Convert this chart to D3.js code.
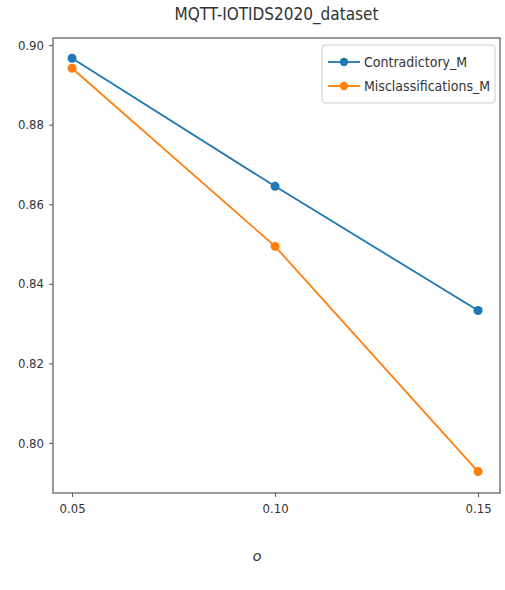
<!DOCTYPE html>
<html lang="en">
<head>
    <meta charset="utf-8">
    <title>MQTT-IOTIDS2020_dataset</title>
    <script src="https://d3js.org/d3.v7.min.js"></script>
    <style>
        body { margin: 0; background: #fff; }
        svg text { font-family: "DejaVu Sans Condensed", "DejaVu Sans", sans-serif; font-stretch: condensed; fill: #333; }
    </style>
</head>
<body>
<script>
    // data
    var xValues = [0.05, 0.10, 0.15];
    var contradictory = [0.8967, 0.8645, 0.8333];
    var misclass = [0.8942, 0.8494, 0.7928];
    var seriesNames = ["Contradictory_M", "Misclassifications_M"];
    var xTicks = [0.05, 0.10, 0.15];
    var yTicks = [0.80, 0.82, 0.84, 0.86, 0.88, 0.90];

    var w = 505, h = 590;
    var pl = 53, pr = 500, pt = 38, pb = 493;
    var colors = ["#1f77b4", "#ff7f0e"];

    var svg = d3.select("body").append("svg").attr("width", w).attr("height", h);

    var x = d3.scaleLinear().domain([0.0453, 0.1554]).range([pl, pr]);
    var y = d3.scaleLinear().domain([0.7874, 0.9018]).range([pb, pt]);

    // frame
    svg.append("rect").attr("x", pl).attr("y", pt)
        .attr("width", pr - pl).attr("height", pb - pt)
        .attr("fill", "none").attr("stroke", "#555").attr("stroke-width", 1.2);

    var xAxis = svg.append("g").attr("transform", "translate(0," + pb + ")")
        .call(d3.axisBottom(x).tickValues(xTicks).tickFormat(d3.format(".2f")).tickSize(4).tickPadding(7));
    var yAxis = svg.append("g").attr("transform", "translate(" + pl + ",0)")
        .call(d3.axisLeft(y).tickValues(yTicks).tickFormat(d3.format(".2f")).tickSize(4).tickPadding(5));
    [xAxis, yAxis].forEach(function (a) {
        a.select(".domain").remove();
        a.selectAll("line").attr("stroke", "#555");
        a.selectAll("text").style("font-size", "13px").attr("fill", "#333");
    });

    var series = [contradictory, misclass];
    var line = d3.line().x(function (d, i) { return x(xValues[i]); }).y(function (d) { return y(d); });

    series.forEach(function (s, k) {
        svg.append("path").datum(s).attr("d", line)
            .attr("fill", "none").attr("stroke", colors[k]).attr("stroke-width", 1.8);
        svg.selectAll(".pt" + k).data(s).enter().append("circle")
            .attr("cx", function (d, i) { return x(xValues[i]); })
            .attr("cy", function (d) { return y(d); })
            .attr("r", 4.5).attr("fill", colors[k]);
    });

    // title
    svg.append("text").attr("x", (pl + pr) / 2).attr("y", 20)
        .attr("text-anchor", "middle").style("font-size", "17px").attr("fill", "#222")
        .text("MQTT-IOTIDS2020_dataset");

    // legend
    var lg = svg.append("g").attr("transform", "translate(322,45)");
    lg.append("rect").attr("width", 173).attr("height", 58).attr("rx", 3)
        .attr("fill", "#fff").attr("stroke", "#ccc");
    seriesNames.forEach(function (n, k) {
        var yy = 17 + k * 24;
        lg.append("line").attr("x1", 6).attr("x2", 38).attr("y1", yy).attr("y2", yy)
            .attr("stroke", colors[k]).attr("stroke-width", 1.8);
        lg.append("circle").attr("cx", 22).attr("cy", yy).attr("r", 4.2).attr("fill", colors[k]);
        lg.append("text").attr("x", 42).attr("y", yy + 5).style("font-size", "14px").text(n);
    });

    // caption
    svg.append("text").attr("x", 257).attr("y", 561).attr("text-anchor", "middle")
        .style("font-size", "17px").style("font-style", "italic").style("font-stretch", "normal").attr("fill", "#000")
        .style("font-family", "Carlito, 'Liberation Sans', sans-serif").text("o");
</script>
</body>
</html>
